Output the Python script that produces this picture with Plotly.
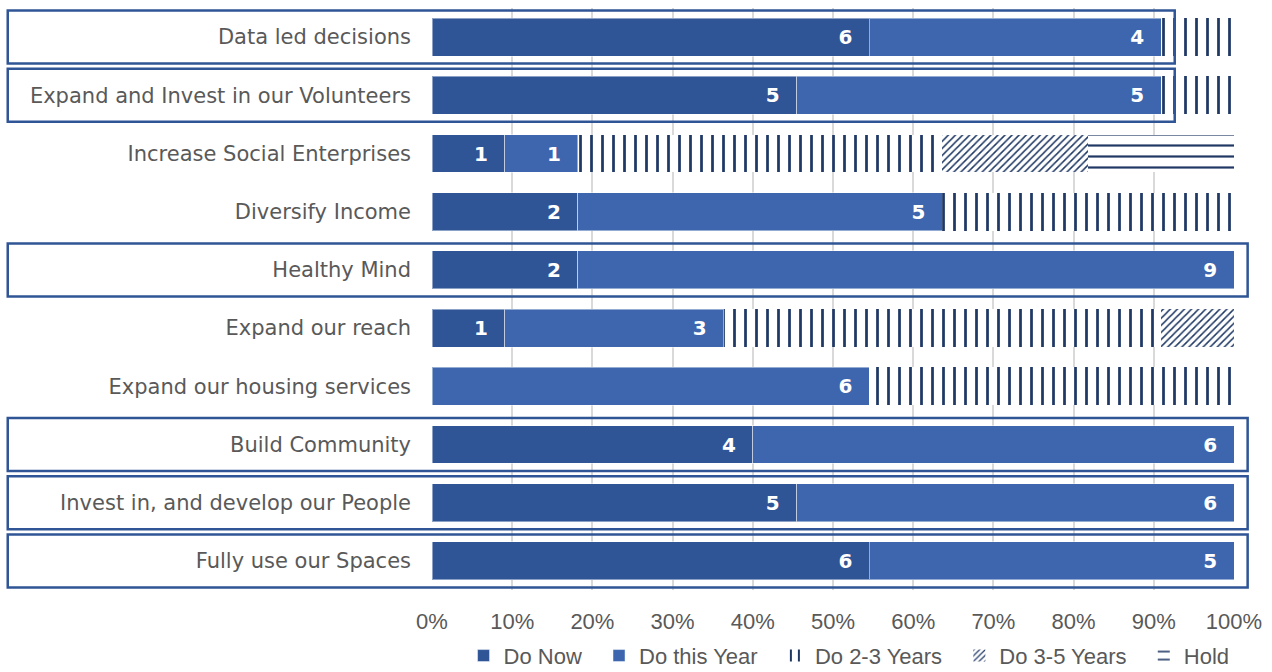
import plotly.graph_objects as go

categories = [
    "Data led decisions",
    "Expand and Invest in our Volunteers",
    "Increase Social Enterprises",
    "Diversify Income",
    "Healthy Mind",
    "Expand our reach",
    "Expand our housing services",
    "Build Community",
    "Invest in, and develop our People",
    "Fully use our Spaces",
]
do_now = [6, 5, 1, 2, 2, 1, 0, 4, 5, 6]
do_this_year = [4, 5, 1, 5, 9, 3, 6, 6, 6, 5]
do_2_3 = [1, 1, 5, 4, 0, 6, 5, 0, 0, 0]
do_3_5 = [0, 0, 2, 0, 0, 1, 0, 0, 0, 0]
hold = [0, 0, 2, 0, 0, 0, 0, 0, 0, 0]
highlighted = [
    "Data led decisions",
    "Expand and Invest in our Volunteers",
    "Healthy Mind",
    "Build Community",
    "Invest in, and develop our People",
    "Fully use our Spaces",
]
series_names = ["Do Now", "Do this Year", "Do 2-3 Years", "Do 3-5 Years", "Hold"]
x_ticks = [0, 0.1, 0.2, 0.3, 0.4, 0.5, 0.6, 0.7, 0.8, 0.9, 1.0]

C_NOW = "#2F5597"
C_YEAR = "#3D66AE"
C_PAT = "#1F3864"
GREY = "#595959"
NBSP = "\u00a0"

fig = go.Figure()


def lbl(vals):
    return [f"{v}{NBSP}{NBSP}" if v else "" for v in vals]


def legend_name(n, last=False):
    return n if last else n + NBSP * 2


solid_common = dict(
    orientation="h",
    textposition="inside",
    insidetextanchor="end",
    textangle=0,
    constraintext="none",
    textfont=dict(family="DejaVu Sans", size=20, color="white", weight="bold"),
    width=0.65,
    hoverinfo="skip",
)

fig.add_trace(go.Bar(
    name=legend_name(series_names[0]), y=categories, x=do_now, text=lbl(do_now),
    texttemplate="%{text}",
    marker=dict(color=C_NOW, line=dict(color="rgba(255,255,255,0.45)", width=1)),
    **solid_common,
))
fig.add_trace(go.Bar(
    name=legend_name(series_names[1]), y=categories, x=do_this_year, text=lbl(do_this_year),
    texttemplate="%{text}",
    marker=dict(color=C_YEAR, line=dict(color="rgba(255,255,255,0.45)", width=1)),
    **solid_common,
))

pat_common = dict(orientation="h", width=0.65, hoverinfo="skip", textposition="none")
fig.add_trace(go.Bar(
    name=legend_name(series_names[2]), y=categories, x=do_2_3,
    marker=dict(color=C_PAT, line=dict(width=0),
                pattern=dict(shape="|", size=11, solidity=0.25,
                             fgcolor=C_PAT, bgcolor="white", fillmode="replace")),
    **pat_common,
))
fig.add_trace(go.Bar(
    name=legend_name(series_names[3]), y=categories, x=do_3_5,
    marker=dict(color=C_PAT, line=dict(width=0),
                pattern=dict(shape="/", size=5, solidity=0.3,
                             fgcolor=C_PAT, bgcolor="white", fillmode="replace")),
    **pat_common,
))
fig.add_trace(go.Bar(
    name=legend_name(series_names[4], last=True), y=categories, x=hold,
    marker=dict(color=C_PAT, line=dict(width=0),
                pattern=dict(shape="-", size=11, solidity=0.2,
                             fgcolor=C_PAT, bgcolor="white", fillmode="replace")),
    **pat_common,
))

# highlight boxes around selected categories
for i, cat in enumerate(categories):
    if cat in highlighted:
        total = do_now[i] + do_this_year[i] + do_2_3[i] + do_3_5[i] + hold[i]
        right = (do_now[i] + do_this_year[i]) / total + 0.017
        fig.add_shape(
            type="rect", xref="paper", yref="y",
            x0=-0.529, x1=right, y0=i - 0.455, y1=i + 0.455,
            line=dict(color=C_NOW, width=2.5), fillcolor="rgba(0,0,0,0)",
            layer="above",
        )

fig.update_layout(
    width=1272, height=672,
    margin=dict(l=432, r=38, t=8, b=82, autoexpand=False),
    barmode="stack", barnorm="fraction",
    plot_bgcolor="white", paper_bgcolor="white",
    showlegend=True,
    legend=dict(
        orientation="h", x=0.52, xanchor="center", y=-0.113, yanchor="middle",
        font=dict(family="Liberation Sans, Arial", size=22, color=GREY),
        traceorder="normal", itemwidth=30,
    ),
    xaxis=dict(
        range=[0, 1], tickvals=x_ticks, tickformat=".0%",
        showgrid=True, gridcolor="#D9D9D9", gridwidth=2,
        zeroline=False, showline=False, ticks="",
        tickfont=dict(family="Liberation Sans, Arial", size=22, color=GREY),
        ticklabelstandoff=16, automargin=False,
    ),
    yaxis=dict(
        autorange="reversed", showgrid=False, zeroline=False, showline=False, ticks="",
        tickfont=dict(family="DejaVu Sans, Verdana", size=21, color=GREY),
        ticklabelstandoff=20, automargin=False,
    ),
)

fig.write_html("out.html")
